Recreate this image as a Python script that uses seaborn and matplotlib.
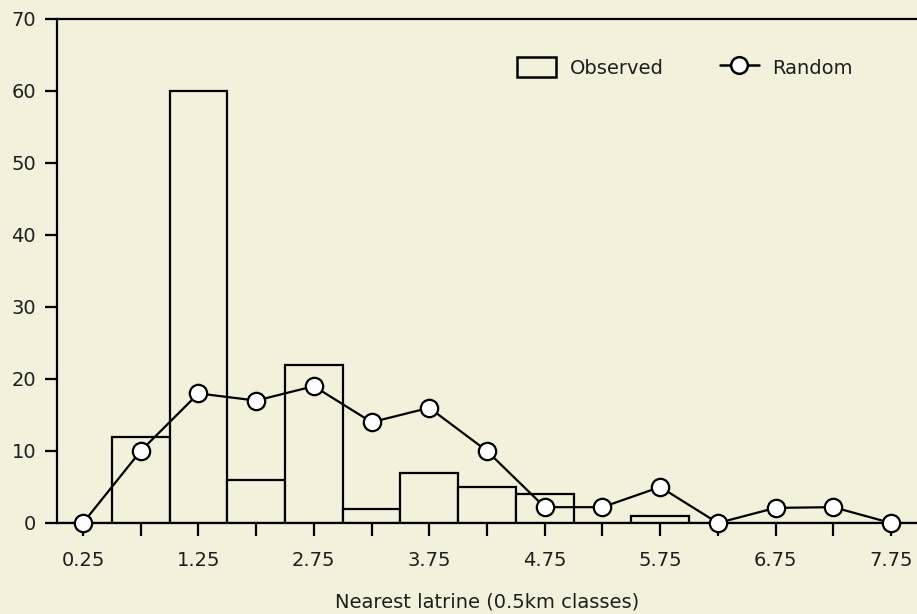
import matplotlib
matplotlib.use("Agg")
import matplotlib.pyplot as plt
import seaborn as sns
import pandas as pd
from matplotlib.patches import Patch
from matplotlib.lines import Line2D

# Distance classes (0.5 km), labels as printed on the original axis
classes = list(range(15))
tick_labels = ["0.25", "", "1.25", "", "2.75", "", "3.75", "", "4.75", "",
               "5.75", "", "6.75", "", "7.75"]
observed = [0, 12, 60, 6, 22, 2, 7, 5, 4, 0, 1, 0, 0, 0, 0]
random_vals = [0, 10, 18, 17, 19, 14, 16, 10, 2.2, 2.2, 5, 0, 2.1, 2.2, 0]

bg = "#f3f1dc"
ink = "#1e1e1e"

sns.set_theme(style="white")
plt.rcParams['font.family'] = ['DejaVu Sans']
plt.rcParams['font.size'] = 14
plt.rcParams['text.color'] = ink

df = pd.DataFrame({"cls": classes, "Observed": observed, "Random": random_vals})

fig = plt.figure(figsize=(9.17, 6.14), dpi=100, facecolor=bg)
ax = fig.add_axes([57 / 917, 1 - 523 / 614, 1 - 57 / 917, (523 - 19) / 614])
ax.set_facecolor(bg)

sns.barplot(data=df, x="cls", y="Observed", width=1.0, color=bg,
            saturation=1, edgecolor="black", linewidth=1.6, ax=ax, zorder=2)
sns.lineplot(data=df, x="cls", y="Random", color="black", linewidth=1.6,
             marker="o", markersize=12.5, markerfacecolor="white",
             markeredgecolor="black", markeredgewidth=1.6, ax=ax, zorder=3,
             clip_on=False)

ax.set_xlim(-0.45, 14.45)
ax.set_ylim(0, 70)
ax.set_xticks(classes)
ax.set_xticklabels(tick_labels)
ax.set_yticks(range(0, 71, 10))
ax.tick_params(axis="both", direction="out", length=9, width=1.6,
               colors="black", labelsize=14, labelcolor=ink,
               bottom=True, left=True)
ax.tick_params(axis="x", pad=11)
ax.tick_params(axis="y", pad=6)

for side in ["left", "top", "bottom"]:
    ax.spines[side].set_visible(True)
    ax.spines[side].set_color("black")
    ax.spines[side].set_linewidth(1.6)
ax.spines["right"].set_visible(False)

ax.set_xlabel("Nearest latrine (0.5km classes)", fontsize=14,
              color=ink, labelpad=16)
ax.set_ylabel("")

handles = [Patch(facecolor=bg, edgecolor="black", linewidth=1.8),
           Line2D([], [], color="black", linewidth=1.8, marker="o",
                  markersize=12, markerfacecolor="white",
                  markeredgecolor="black", markeredgewidth=1.8)]
ax.legend(handles, ["Observed", "Random"], loc="upper left", ncol=2,
          frameon=False, bbox_to_anchor=(0.535, 0.924), fontsize=14,
          borderpad=0, borderaxespad=0, handlelength=2.0,
          handleheight=1.15, columnspacing=2.9, handletextpad=0.7)

fig.savefig("out.png", dpi=100, facecolor=bg)
